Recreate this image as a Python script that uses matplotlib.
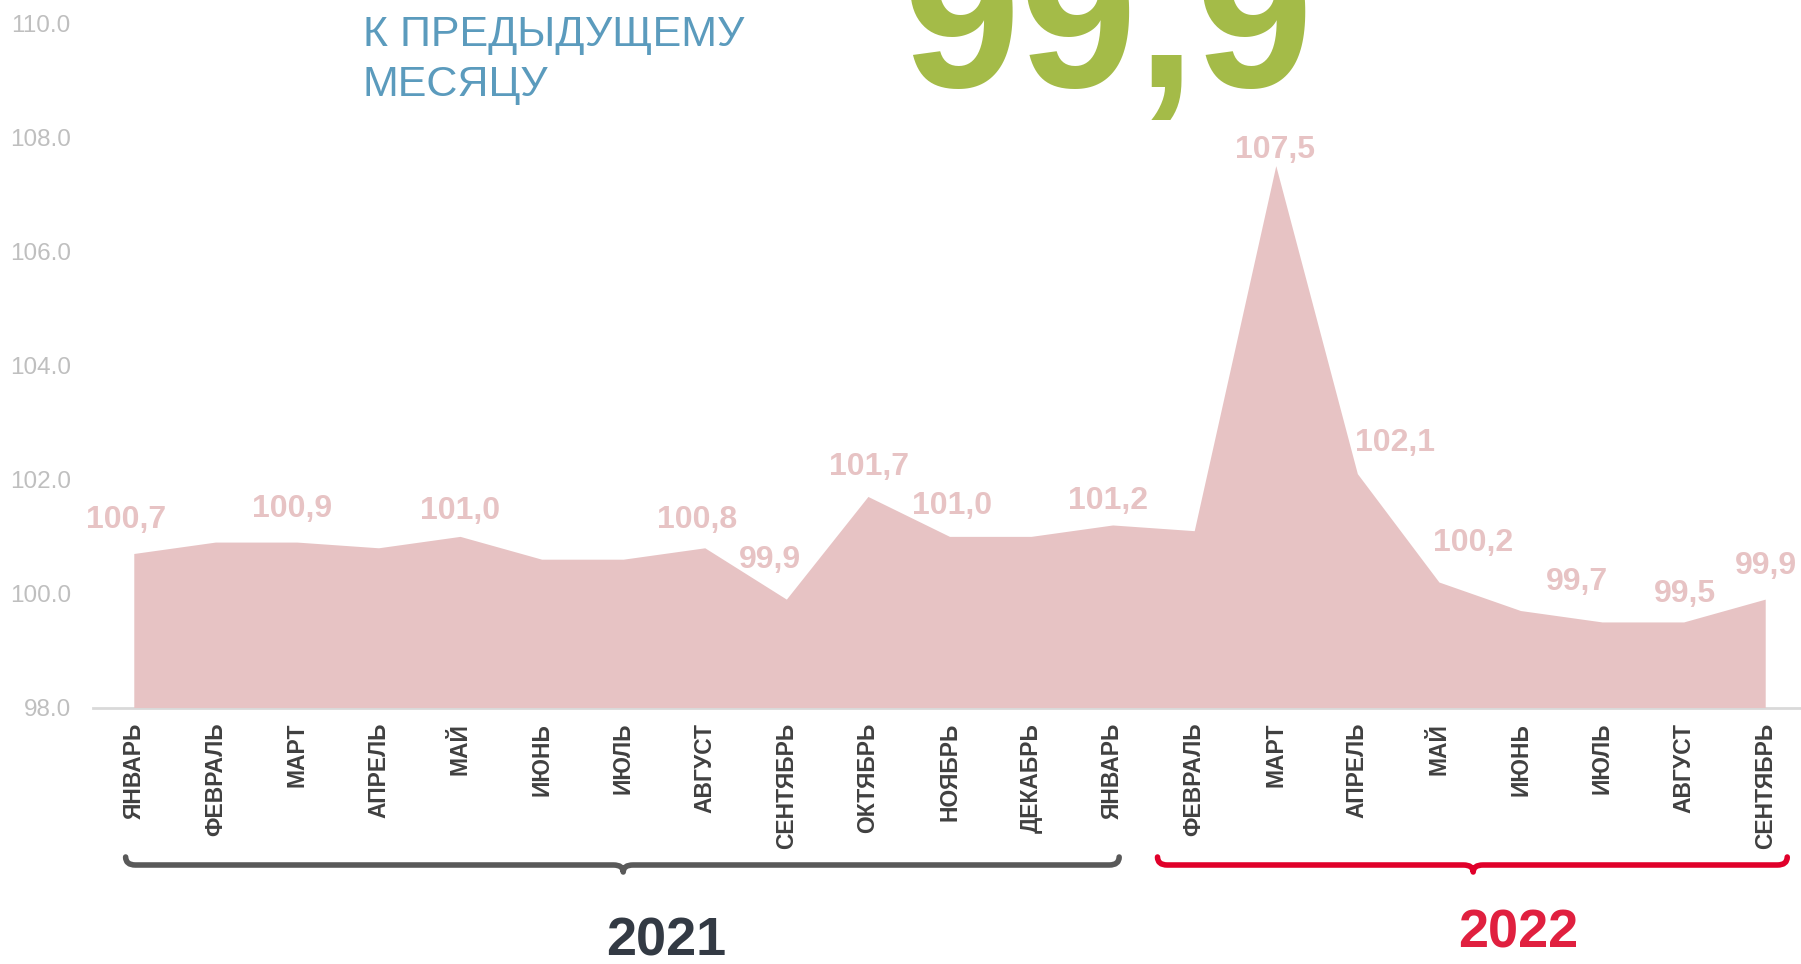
import matplotlib
matplotlib.use('Agg')
import matplotlib.pyplot as plt
from matplotlib.path import Path
from matplotlib.patches import PathPatch
from matplotlib.transforms import blended_transform_factory
from matplotlib import font_manager

plt.close('all')

months = ['ЯНВАРЬ', 'ФЕВРАЛЬ', 'МАРТ', 'АПРЕЛЬ', 'МАЙ', 'ИЮНЬ', 'ИЮЛЬ', 'АВГУСТ',
          'СЕНТЯБРЬ', 'ОКТЯБРЬ', 'НОЯБРЬ', 'ДЕКАБРЬ',
          'ЯНВАРЬ', 'ФЕВРАЛЬ', 'МАРТ', 'АПРЕЛЬ', 'МАЙ', 'ИЮНЬ', 'ИЮЛЬ', 'АВГУСТ', 'СЕНТЯБРЬ']
values = [100.7, 100.9, 100.9, 100.8, 101.0, 100.6, 100.6, 100.8, 99.9, 101.7, 101.0, 101.0,
          101.2, 101.1, 107.5, 102.1, 100.2, 99.7, 99.5, 99.5, 99.9]
labelled = [0, 2, 4, 7, 8, 9, 10, 12, 14, 15, 16, 17, 19, 20]
yticks = [98.0, 100.0, 102.0, 104.0, 106.0, 108.0, 110.0]
headline = '99,9'
subtitle = 'К ПРЕДЫДУЩЕМУ\nМЕСЯЦУ'
years = ['2021', '2022']

# label offsets in pixels (dx, dy up)
offsets = {0: (-8, 33), 2: (-5, 33), 4: (0, 25), 7: (-8, 28), 8: (-16, 39), 9: (1, 29),
           10: (3, 30), 12: (-5, 24), 14: (-1, 16), 15: (38, 31), 16: (34, 39),
           17: (56, 29), 19: (1, 28), 20: (1, 33)}

names = {f.name for f in font_manager.fontManager.ttflist}
narrow = 'Liberation Sans Narrow' if 'Liberation Sans Narrow' in names else 'Liberation Sans'
is_narrow = narrow == 'Liberation Sans Narrow'
plt.rcParams['font.family'] = ['Liberation Sans', 'DejaVu Sans']

pink = '#e7c3c4'
fig = plt.figure(figsize=(18.01, 9.64), dpi=100)
W, H = 1801, 964
x0px, x1px = 93, 1806
ytop, ybot = 23, 707.5
ax = fig.add_axes([x0px / W, 1 - ybot / H, (x1px - x0px) / W, (ybot - ytop) / H])

x = list(range(len(values)))
ax.fill_between(x, 98.0, values, color=pink, lw=0)
ax.set_xlim(-0.5, len(values) - 0.5)
ax.set_ylim(98, 110)

for s in ['top', 'right', 'left']:
    ax.spines[s].set_visible(False)
ax.spines['bottom'].set_color('#d9d9d9')
ax.spines['bottom'].set_linewidth(2)
ax.spines['bottom'].set_zorder(0)

ax.set_yticks(yticks)
ax.set_yticklabels([f'{v:.1f}' for v in yticks], color='#bfbfbf',
                   fontsize=20 if is_narrow else 17.5, family=[narrow, 'DejaVu Sans'])
ax.tick_params(axis='y', length=0, pad=16)
ax.set_xticks(x)
ax.set_xticklabels(months, rotation=90, fontsize=16.5, fontweight='bold', color='#404040', va='top')
ax.tick_params(axis='x', length=0, pad=11)

for i in labelled:
    dx, dy = offsets[i]
    ax.annotate(f'{values[i]:.1f}'.replace('.', ','), (i, values[i]), xytext=(dx, dy),
                textcoords='offset pixels', ha='center', va='center', color=pink,
                fontsize=25 if is_narrow else 23, fontweight='bold',
                family=[narrow, 'DejaVu Sans'], annotation_clip=False)

fig.text(363 / W, 1 - 60 / H, subtitle, ha='left', va='center', color='#5b9bbd',
         fontsize=34 if is_narrow else 31, family=[narrow, 'DejaVu Sans'], linespacing=1.3)
fig.text(1108 / W, 1 - 87 / H, headline, ha='center', va='baseline', color='#a4bb48',
         fontsize=152, fontweight='bold')


def brace(xa, xm, xb, color):
    tr = blended_transform_factory(ax.transData, fig.transFigure)
    yl, yu, yd = 1 - 865 / H, 1 - 857 / H, 1 - 872 / H
    r = 0.12
    verts = [(xa, yu), (xa, yl), (xa + r, yl), (xm - r, yl), (xm, yl), (xm, yd),
             (xm, yl), (xm + r, yl), (xb - r, yl), (xb, yl), (xb, yu)]
    codes = [Path.MOVETO, Path.CURVE3, Path.CURVE3, Path.LINETO, Path.CURVE3, Path.CURVE3,
             Path.CURVE3, Path.CURVE3, Path.LINETO, Path.CURVE3, Path.CURVE3]
    ax.add_patch(PathPatch(Path(verts, codes), transform=tr, fill=False, edgecolor=color,
                           lw=4, capstyle='round', joinstyle='round', clip_on=False))


brace(-0.1, 6.0, 12.08, '#595959')
brace(12.55, 16.42, 20.27, '#e0002a')

fig.text(666 / W, 1 - 942 / H, years[0], ha='center', va='center', color='#333a44',
         fontsize=44 if is_narrow else 39, fontweight='bold', family=[narrow, 'DejaVu Sans'])
fig.text(1518 / W, 1 - 933 / H, years[1], ha='center', va='center', color='#e0203f',
         fontsize=44 if is_narrow else 39, fontweight='bold', family=[narrow, 'DejaVu Sans'])

plt.savefig('out.png', dpi=100)
